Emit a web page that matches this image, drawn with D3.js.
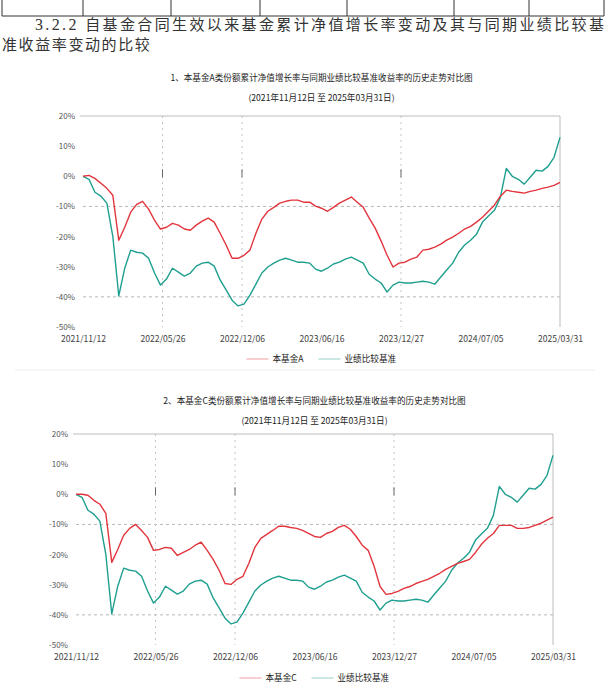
<!DOCTYPE html>
<html>
<head>
<meta charset="utf-8">
<script src="https://cdn.jsdelivr.net/npm/d3@7"></script>
<style>
  body { margin: 0; background: #fff; }
  text { font-family: "Noto Sans CJK SC", "Noto Sans", sans-serif; }
</style>
</head>
<body>
<script>
const W = 606, H = 694;

// x 轴刻度标签
const xLabels = ["2021/11/12", "2022/05/26", "2022/12/06", "2023/06/16", "2023/12/27", "2024/07/05", "2025/03/31"];
// y 轴刻度 (%)
const yTicks = [20, 10, 0, -10, -20, -30, -40, -50];

// A类份额累计净值增长率 (%)
const fundA = [
  0, 0.3, -0.7, -2.3, -4.0, -6.3, -21.2, -16.9, -11.9, -9.3,
  -8.3, -10.9, -14.6, -17.5, -16.9, -15.6, -16.2, -17.5, -17.9, -16.2,
  -14.9, -13.9, -15.2, -18.9, -22.8, -27.2, -27.2, -26.2, -24.5, -18.9,
  -14.2, -11.6, -10.3, -8.9, -8.3, -7.9, -7.9, -8.6, -8.6, -9.9,
  -10.6, -11.6, -10.3, -8.9, -7.9, -6.9, -8.6, -10.3, -13.9, -17.2,
  -21.5, -26.2, -30.1, -28.8, -28.5, -27.5, -26.8, -24.5, -24.2, -23.5,
  -22.5, -21.2, -20.2, -18.9, -17.5, -16.6, -15.2, -13.6, -11.6, -9.6,
  -6.6, -4.6, -5.0, -5.3, -5.6, -5.0, -4.6, -4.0, -3.6, -3.0,
  -2.0
];

// C类份额累计净值增长率 (%)
const fundC = [
  0, 0, -0.3, -2.0, -3.3, -6.3, -22.6, -18.3, -13.6, -11.3,
  -10.0, -12.0, -14.3, -18.6, -18.3, -17.6, -17.9, -20.3, -19.3, -18.3,
  -16.9, -15.9, -18.6, -21.6, -25.2, -29.6, -29.9, -28.2, -27.2, -22.9,
  -17.6, -14.6, -13.3, -12.0, -10.6, -10.6, -11.0, -11.3, -12.0, -13.0,
  -14.0, -14.3, -13.0, -12.3, -11.0, -10.3, -11.6, -14.0, -16.9, -18.6,
  -23.9, -30.6, -33.2, -32.9, -32.2, -31.2, -30.6, -29.6, -28.9, -28.2,
  -27.2, -26.2, -24.9, -23.9, -22.9, -22.3, -21.6, -19.3, -16.6, -14.6,
  -13.0, -10.3, -10.3, -10.3, -11.3, -11.3, -11.0, -10.3, -9.6, -8.6,
  -7.6
];

// 业绩比较基准收益率 (%)
const benchmark = [
  0, -1.0, -5.3, -6.6, -8.9, -19.9, -39.7, -30.5, -24.5, -25.2,
  -25.5, -27.2, -32.1, -36.1, -34.1, -30.5, -31.8, -33.1, -32.1, -29.8,
  -28.8, -28.5, -29.8, -34.4, -37.7, -41.1, -43.0, -42.4, -39.4, -35.8,
  -32.1, -30.1, -28.8, -27.8, -27.2, -27.8, -28.5, -28.5, -28.8, -30.8,
  -31.5, -30.5, -29.1, -28.5, -27.5, -26.8, -27.8, -28.8, -32.5, -34.1,
  -35.4, -38.4, -36.1, -35.1, -35.4, -35.4, -35.1, -34.8, -35.1, -35.8,
  -33.4, -31.1, -28.8, -25.2, -22.8, -21.2, -19.2, -15.2, -13.2, -11.3,
  -7.0, 2.6, 0, -1.0, -2.6, -0.3, 2.0, 1.7, 3.3, 6.3,
  12.9
];

const RED = "#e2343c";
const TEAL = "#1f9f8f";

const svg = d3.select("body").append("svg")
  .attr("width", W)
  .attr("height", H);

svg.append("rect").attr("width", W).attr("height", H).attr("fill", "#fff");

// 顶部表格残留的边线
const tableCols = [2, 83, 171, 260, 347, 454, 529, 604];
svg.selectAll(".tcol")
  .data(tableCols)
  .enter()
  .append("line")
  .attr("x1", d => d).attr("x2", d => d)
  .attr("y1", 0).attr("y2", 16)
  .attr("stroke", "#333");
svg.append("line")
  .attr("x1", 2).attr("x2", 604)
  .attr("y1", 16).attr("y2", 16)
  .attr("stroke", "#333");

// 标题段落
const head = svg.append("text")
  .attr("x", 35)
  .attr("y", 30)
  .attr("font-size", 15)
  .attr("fill", "#333")
  .attr("textLength", 569)
  .attr("lengthAdjust", "spacing");
head.append("tspan").attr("font-family", "Liberation Serif").attr("font-size", 16).text("3.2.2 ");
head.append("tspan").text("自基金合同生效以来基金累计净值增长率变动及其与同期业绩比较基");

svg.append("text")
  .attr("x", 2)
  .attr("y", 50)
  .attr("font-size", 15)
  .attr("fill", "#333")
  .attr("letter-spacing", 1.6)
  .text("准收益率变动的比较");

function drawChart(cfg) {
  const n = cfg.fund.length;
  const x = d3.scaleLinear().domain([0, n - 1]).range([cfg.left, cfg.right]);
  const y = d3.scaleLinear().domain([d3.min(yTicks), d3.max(yTicks)]).range([cfg.bottom, cfg.top]);
  const g = svg.append("g");
  const cx = (cfg.left + cfg.right) / 2;

  g.append("text")
    .attr("x", cx).attr("y", cfg.titleY)
    .attr("text-anchor", "middle")
    .attr("font-size", 8.6)
    .attr("fill", "#222")
    .text(cfg.title);
  g.append("text")
    .attr("x", cx).attr("y", cfg.titleY + 20)
    .attr("text-anchor", "middle")
    .attr("font-size", 8.6)
    .attr("fill", "#222")
    .text("(2021年11月12日 至 2025年03月31日)");

  const tickPos = xLabels.map((d, i) => i * (n - 1) / (xLabels.length - 1));

  // 虚线网格
  g.selectAll(".hgrid")
    .data([-10, -40])
    .enter()
    .append("line")
    .attr("x1", cfg.left).attr("x2", cfg.right)
    .attr("y1", d => y(d)).attr("y2", d => y(d))
    .attr("stroke", "#b8b8b8")
    .attr("stroke-dasharray", "3,3");

  const vgrid = [tickPos[1], tickPos[2], tickPos[4]];
  g.selectAll(".vgrid")
    .data(vgrid)
    .enter()
    .append("line")
    .attr("x1", d => x(d)).attr("x2", d => x(d))
    .attr("y1", cfg.top).attr("y2", cfg.bottom)
    .attr("stroke", "#c4c4c4")
    .attr("stroke-dasharray", "2,4");
  g.selectAll(".vmark")
    .data(vgrid)
    .enter()
    .append("line")
    .attr("x1", d => x(d)).attr("x2", d => x(d))
    .attr("y1", y(0) - 7).attr("y2", y(0) + 1)
    .attr("stroke", "#666");

  // 上边框与右边框
  g.append("line")
    .attr("x1", cfg.left - 3).attr("x2", cfg.right)
    .attr("y1", cfg.top).attr("y2", cfg.top)
    .attr("stroke", "#bdbdbd");
  g.append("line")
    .attr("x1", cfg.right).attr("x2", cfg.right)
    .attr("y1", cfg.top).attr("y2", cfg.bottom)
    .attr("stroke", "#bdbdbd");

  // 坐标轴
  const yAxis = g.append("g")
    .attr("transform", `translate(${cfg.left},0)`)
    .call(d3.axisLeft(y).tickValues(yTicks).tickFormat(d => d + "%").tickSize(0).tickPadding(8));
  yAxis.select(".domain").remove();
  yAxis.selectAll("text")
    .attr("font-size", 8)
    .attr("fill", "#555")
    .attr("font-family", "Liberation Sans");

  const xAxis = g.append("g")
    .attr("transform", `translate(0,${cfg.bottom})`)
    .call(d3.axisBottom(x).tickValues(tickPos).tickFormat((d, i) => xLabels[i]).tickSize(0).tickPadding(9));
  xAxis.select(".domain").remove();
  xAxis.selectAll("text")
    .attr("font-size", 8.6)
    .attr("fill", "#444")
    .attr("font-family", "Liberation Sans");

  // 折线
  const line = d3.line()
    .x((d, i) => x(i))
    .y(d => y(d));

  g.append("path")
    .datum(benchmark)
    .attr("d", line)
    .attr("fill", "none")
    .attr("stroke", TEAL)
    .attr("stroke-width", 1.4)
    .attr("stroke-linejoin", "round");
  g.append("path")
    .datum(cfg.fund)
    .attr("d", line)
    .attr("fill", "none")
    .attr("stroke", RED)
    .attr("stroke-width", 1.4)
    .attr("stroke-linejoin", "round");

  // 图例
  const legend = [
    { name: cfg.fundName, color: RED, x: cx - 75 },
    { name: "业绩比较基准", color: TEAL, x: cx - 3 }
  ];
  const lg = g.selectAll(".legend")
    .data(legend)
    .enter()
    .append("g")
    .attr("transform", d => `translate(${d.x},${cfg.legendY})`);
  lg.append("line")
    .attr("x1", 0).attr("x2", 22)
    .attr("y1", -3).attr("y2", -3)
    .attr("stroke", d => d.color)
    .attr("stroke-opacity", 0.3)
    .attr("stroke-width", 1.6);
  lg.append("text")
    .attr("x", 26)
    .attr("font-size", 8.6)
    .attr("fill", "#222")
    .text(d => d.name);
}

drawChart({
  title: "1、本基金A类份额累计净值增长率与同期业绩比较基准收益率的历史走势对比图",
  fundName: "本基金A",
  fund: fundA,
  left: 83, right: 560, top: 116, bottom: 327,
  titleY: 81, legendY: 362
});

// 两图之间的浅色边缘
svg.append("line")
  .attr("x1", 15).attr("x2", 595)
  .attr("y1", 370).attr("y2", 370)
  .attr("stroke", "#ececec");

drawChart({
  title: "2、本基金C类份额累计净值增长率与同期业绩比较基准收益率的历史走势对比图",
  fundName: "本基金C",
  fund: fundC,
  left: 76, right: 553, top: 434, bottom: 645,
  titleY: 404, legendY: 681
});
</script>
</body>
</html>
